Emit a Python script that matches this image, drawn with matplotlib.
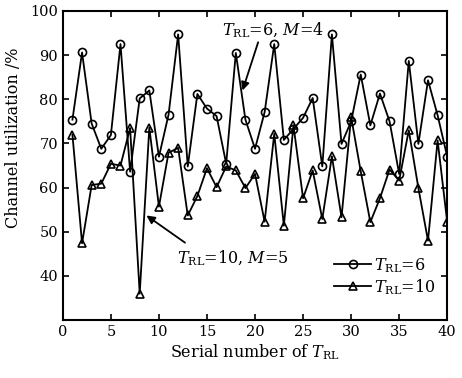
import matplotlib
matplotlib.use("Agg")
import numpy as np
from matplotlib import pyplot as plt

# serial numbers of T_RL
serial = list(range(1, 41))

# channel utilization (%) for T_RL=6, M=4
util_t6 = [75.4, 90.6, 74.5, 68.8, 71.9, 92.5, 63.6, 80.2, 82.0, 67.0,
           76.5, 94.7, 64.8, 81.2, 77.9, 76.2, 65.4, 90.5, 75.4, 68.8,
           77.1, 92.5, 70.8, 73.3, 75.8, 80.3, 64.8, 94.7, 69.9, 75.0,
           85.6, 74.1, 81.3, 75.0, 63.1, 88.7, 69.9, 84.3, 76.4, 67.0]

# channel utilization (%) for T_RL=10, M=5
util_t10 = [72.0, 47.4, 60.6, 60.9, 65.4, 65.0, 73.5, 36.0, 73.6, 55.7,
            67.9, 69.0, 53.7, 58.1, 64.4, 60.1, 64.8, 63.9, 59.9, 63.1,
            52.3, 72.2, 51.4, 74.1, 57.6, 63.9, 52.9, 67.1, 53.3, 76.0,
            63.7, 52.2, 57.6, 64.1, 61.6, 73.0, 59.9, 48.0, 70.7, 52.2]

xticks = list(range(0, 45, 5))
yticks = list(range(40, 110, 10))

plt.rcParams['font.family'] = 'DejaVu Serif'
plt.rcParams['mathtext.fontset'] = 'dejavuserif'

fig = plt.figure(figsize=(4.62, 3.78), dpi=100)
ax = fig.add_axes([0.136, 0.153, 0.832, 0.818])

ax.plot(serial, util_t6, color='k', linewidth=1.3, marker='o', markersize=5.8,
        markerfacecolor='none', markeredgewidth=1.2, label=r'$T_{\mathrm{RL}}$=6')
ax.plot(serial, util_t10, color='k', linewidth=1.3, marker='^', markersize=5.8,
        markerfacecolor='none', markeredgewidth=1.2, label=r'$T_{\mathrm{RL}}$=10')

ax.set_xlim(0, 40)
ax.set_ylim(30, 100)
ax.set_xticks(xticks)
ax.set_yticks(yticks)
ax.tick_params(direction='in', top=True, right=True, length=4, width=1.2,
               labelsize=10.5)
for s in ax.spines.values():
    s.set_linewidth(1.5)

ax.set_xlabel(r'Serial number of $T_{\mathrm{RL}}$', fontsize=11.5, labelpad=2)
ax.set_ylabel('Channel utilization /%', fontsize=11.5)
ax.yaxis.set_label_coords(-0.105, 0.59)

ax.annotate(r'$T_{\mathrm{RL}}$=6, $M$=4', xy=(18.7, 82.0), xytext=(16.6, 94.6),
            fontsize=11.5, va='baseline', ha='left',
            arrowprops=dict(arrowstyle='-|>', color='k', lw=1.3,
                            shrinkA=0, shrinkB=0, mutation_scale=12,
                            relpos=(0.36, 0.0)))
ax.annotate(r'$T_{\mathrm{RL}}$=10, $M$=5', xy=(8.7, 53.7), xytext=(11.9, 42.9),
            fontsize=11.5, va='baseline', ha='left',
            arrowprops=dict(arrowstyle='-|>', color='k', lw=1.3,
                            shrinkA=0, shrinkB=0, mutation_scale=12,
                            relpos=(0.07, 1.3)))

ax.legend(loc='lower right', frameon=False, fontsize=11.5, handlelength=2.3,
          handletextpad=0.2, labelspacing=0.15, borderaxespad=0.3,
          bbox_to_anchor=(1.0, 0.04))

fig.savefig('out.png', dpi=100)
